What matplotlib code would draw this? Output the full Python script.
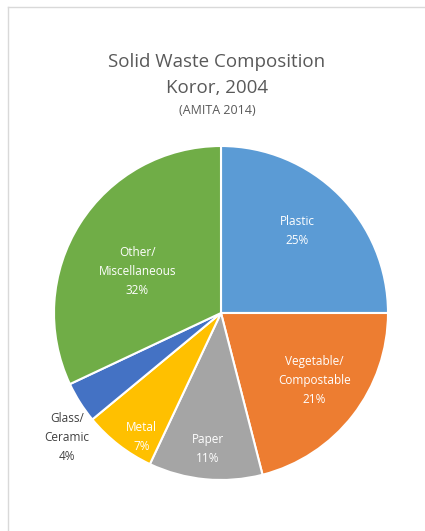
import numpy as np
import matplotlib
matplotlib.use("Agg")
import matplotlib.pyplot as plt
from matplotlib.lines import Line2D

categories = ["Plastic", "Vegetable/\nCompostable", "Paper", "Metal", "Glass/\nCeramic", "Other/\nMiscellaneous"]
values = [25, 21, 11, 7, 4, 32]
colors = ["#5B9BD5", "#ED7D31", "#A5A5A5", "#FFC000", "#4472C4", "#70AD47"]

# label placement (radius fraction, angle offset deg, text colour)
label_r = [0.67, 0.69, 0.82, 0.88, 1.185, 0.56]
label_dang = [2, 2, 0, 5, 6.5, 6]
label_col = ["white", "white", "white", "white", "#404040", "white"]

W, H = 425, 531
fig = plt.figure(figsize=(W / 100, H / 100), dpi=100)
ax = fig.add_axes([0, 0, 1, 1])

cx, cy, R = 221, H - 313, 167
font = "Open Sans"

wedges, _ = ax.pie(values, colors=colors, startangle=90, counterclock=False,
                   center=(cx, cy), radius=R, frame=True,
                   wedgeprops=dict(edgecolor="white", linewidth=1.5))
ax.set_xlim(0, W)
ax.set_ylim(0, H)
ax.set_aspect("equal")
ax.axis("off")

total = sum(values)
for w, cat, v, rf, da, col in zip(wedges, categories, values, label_r, label_dang, label_col):
    mid = np.deg2rad((w.theta1 + w.theta2) / 2 + da)
    x = cx + rf * R * np.cos(mid)
    y = cy + rf * R * np.sin(mid)
    ax.text(x, y, f"{cat}\n{v / total * 100:.0f}%", ha="center", va="center",
            fontsize=8.5, color=col, family=font, linespacing=1.6)

# chart border (top and left visible)
ax.add_line(Line2D([8, W], [H - 7, H - 7], color="#D9D9D9", lw=1))
ax.add_line(Line2D([8, 8], [0, H - 7], color="#D9D9D9", lw=1))

ax.text(217, H - 62, "Solid Waste Composition", ha="center", va="center",
        fontsize=13.5, color="#595959", family=font)
ax.text(217, H - 88, "Koror, 2004", ha="center", va="center",
        fontsize=13.5, color="#595959", family=font)
ax.text(217, H - 110, "(AMITA 2014)", ha="center", va="center",
        fontsize=9, color="#595959", family=font)

fig.savefig("out.png", dpi=100)
